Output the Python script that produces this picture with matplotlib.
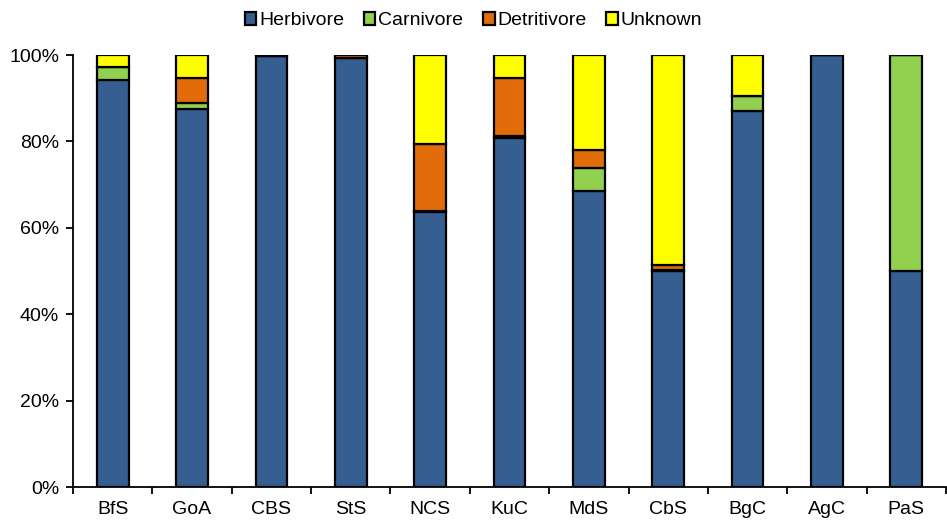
import numpy as np
import matplotlib
matplotlib.use("Agg")
import matplotlib.pyplot as plt
from matplotlib.ticker import PercentFormatter

plt.rcParams['font.family'] = ['Liberation Sans', 'DejaVu Sans']

sites = ["BfS", "GoA", "CBS", "StS", "NCS", "KuC", "MdS", "CbS", "BgC", "AgC", "PaS"]
herbivore = [94.2, 87.4, 99.7, 99.2, 63.7, 80.7, 68.5, 50.0, 87.0, 100.0, 50.0]
carnivore = [3.1, 1.6, 0.0, 0.0, 0.3, 0.6, 5.3, 0.3, 3.4, 0.0, 50.0]
detritivore = [0.0, 5.6, 0.3, 0.8, 15.4, 13.4, 4.2, 1.1, 0.0, 0.0, 0.0]
unknown = [2.7, 5.4, 0.0, 0.0, 20.6, 5.3, 22.0, 48.6, 9.6, 0.0, 0.0]

groups = ["Herbivore", "Carnivore", "Detritivore", "Unknown"]
colors = ["#355f91", "#92d050", "#e36c0a", "#ffff00"]

fig = plt.figure(figsize=(9.47, 5.23), dpi=100)
ax = fig.add_axes([73/947, 36/523, 873/947, 432/523])

x = np.arange(len(sites))
bottom = np.zeros(len(sites))
for name, vals, c in zip(groups, [herbivore, carnivore, detritivore, unknown], colors):
    vals = np.array(vals)
    ax.bar(x, vals, 0.4, bottom=bottom, color=c, edgecolor="black", linewidth=1.6, label=name)
    bottom += vals

ax.set_ylim(0, 100)
ax.set_xlim(-0.5, len(sites) - 0.5)
ax.yaxis.set_major_formatter(PercentFormatter(decimals=0))
ax.set_yticks(np.arange(0, 101, 20))
ax.set_xticks(np.arange(-0.5, len(sites), 1))
ax.set_xticklabels([])
ax.set_xticks(x, minor=True)
ax.set_xticklabels(sites, minor=True)
ax.tick_params(axis="x", which="minor", length=0, pad=10, labelsize=14)
ax.tick_params(axis="x", which="major", length=5, width=1.3)
ax.tick_params(axis="y", length=5, width=1.3, labelsize=14, pad=5)
for s in ["top", "right"]:
    ax.spines[s].set_visible(False)
for s in ["left", "bottom"]:
    ax.spines[s].set_linewidth(1.3)

fig.legend(loc="upper center", bbox_to_anchor=(0.5, 1.01), ncol=4, frameon=False,
           fontsize=14, handlelength=0.6, handleheight=0.6, handletextpad=0.15,
           columnspacing=1.0)

fig.savefig("out.png", dpi=100)
